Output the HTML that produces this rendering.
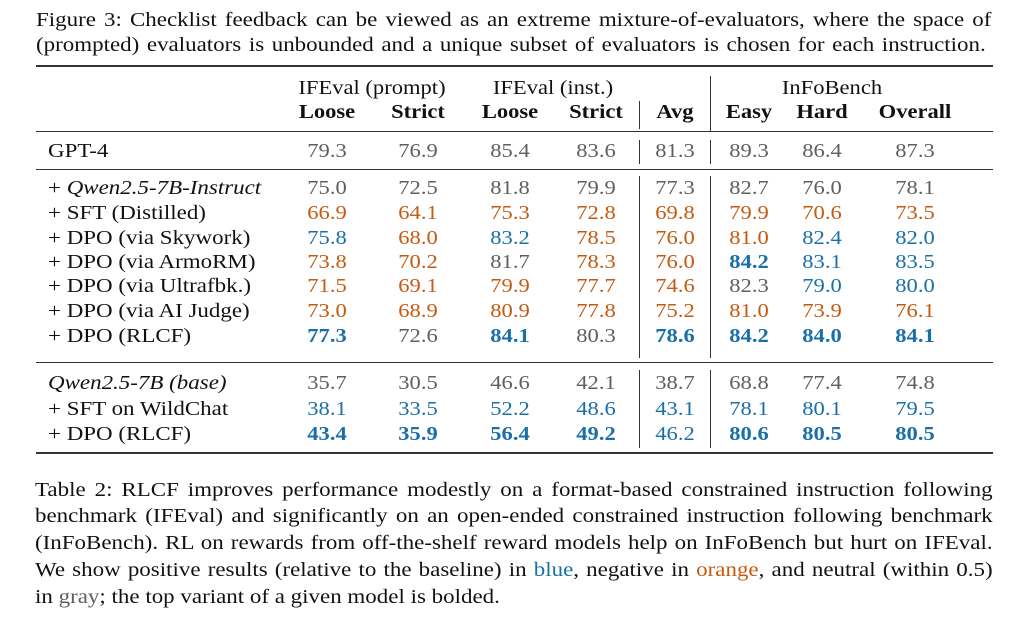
<!DOCTYPE html>
<html><head><meta charset="utf-8"><style>
*{margin:0;padding:0;box-sizing:border-box}
body{width:1024px;height:626px;background:#fff;position:relative;overflow:hidden;font-family:"Liberation Serif","Times New Roman",serif;color:#111}
.t{position:absolute;white-space:nowrap;line-height:24px;height:24px;font-size:20.5px;transform:scaleX(1.12);transform-origin:0 0}
.c{transform:translateX(-50%) scaleX(1.1);transform-origin:50% 0}
.j{position:absolute;left:35px;width:855px;font-size:20.5px;line-height:27px;height:27px;text-align:justify;text-align-last:justify;white-space:nowrap;overflow:visible;transform:scaleX(1.12);transform-origin:0 0}
.r{position:absolute;left:36px;width:957px;background:#333}
.v{position:absolute;width:1.2px;background:#333}
.g{color:#5f5f5f}.b{color:#1a6fa8}.o{color:#c55a11}.B{font-weight:bold}
</style></head><body>
<div class="j" style="top:7px;left:36px;width:853px">Figure 3: Checklist feedback can be viewed as an extreme mixture-of-evaluators, where the space of</div>
<div class="j" style="top:32px;left:36px;width:848px">(prompted) evaluators is unbounded and a unique subset of evaluators is chosen for each instruction.</div>
<div class="r" style="top:65px;height:2px"></div>
<div class="r" style="top:131px;height:1.3px"></div>
<div class="r" style="top:169px;height:1.3px"></div>
<div class="r" style="top:362px;height:1.3px"></div>
<div class="r" style="top:452px;height:2px"></div>
<div class="v" style="left:710px;top:76px;height:55px"></div>
<div class="v" style="left:639px;top:101px;height:28px"></div>
<div class="v" style="left:639px;top:140px;height:24px"></div>
<div class="v" style="left:710px;top:140px;height:24px"></div>
<div class="v" style="left:639px;top:176px;height:182px"></div>
<div class="v" style="left:710px;top:176px;height:182px"></div>
<div class="v" style="left:639px;top:370px;height:78px"></div>
<div class="v" style="left:710px;top:370px;height:78px"></div>
<div id="tb"></div>
<div class="j" style="top:477px">Table 2: RLCF improves performance modestly on a format-based constrained instruction following</div>
<div class="j" style="top:503px">benchmark (IFEval) and significantly on an open-ended constrained instruction following benchmark</div>
<div class="j" style="top:530px">(InFoBench). RL on rewards from off-the-shelf reward models help on InFoBench but hurt on IFEval.</div>
<div class="j" style="top:557px">We show positive results (relative to the baseline) in <span class="b">blue</span>, negative in <span class="o">orange</span>, and neutral (within 0.5)</div>
<div class="j" style="top:584px;text-align-last:left">in <span class="g">gray</span>; the top variant of a given model is bolded.</div>
<script>
var X=[327,418,510,596,675,749,822,915];
var h='';
function t(x,y,s,cls){h+='<div class="t c '+(cls||'')+'" style="left:'+x+'px;top:'+(y-12)+'px">'+s+'</div>';}
t(372,88,'IFEval (prompt)');t(553,88,'IFEval (inst.)');t(832,88,'InFoBench');
['Loose','Strict','Loose','Strict','Avg','Easy','Hard','Overall'].forEach(function(s,i){t(X[i],112,s,'B');});
var rows=[
[151,'GPT-4','79.3 76.9 85.4 83.6 81.3 89.3 86.4 87.3','g g g g g g g g'],
[188,'+ <i>Qwen2.5-7B-Instruct</i>','75.0 72.5 81.8 79.9 77.3 82.7 76.0 78.1','g g g g g g g g'],
[213,'+ SFT (Distilled)','66.9 64.1 75.3 72.8 69.8 79.9 70.6 73.5','o o o o o o o o'],
[238,'+ DPO (via Skywork)','75.8 68.0 83.2 78.5 76.0 81.0 82.4 82.0','b o b o o o b b'],
[262,'+ DPO (via ArmoRM)','73.8 70.2 81.7 78.3 76.0 84.2 83.1 83.5','o o g o o bB b b'],
[286,'+ DPO (via Ultrafbk.)','71.5 69.1 79.9 77.7 74.6 82.3 79.0 80.0','o o o o o g b b'],
[311,'+ DPO (via AI Judge)','73.0 68.9 80.9 77.8 75.2 81.0 73.9 76.1','o o o o o o o o'],
[336,'+ DPO (RLCF)','77.3 72.6 84.1 80.3 78.6 84.2 84.0 84.1','bB g bB g bB bB bB bB'],
[383,'<i>Qwen2.5-7B (base)</i>','35.7 30.5 46.6 42.1 38.7 68.8 77.4 74.8','g g g g g g g g'],
[409,'+ SFT on WildChat','38.1 33.5 52.2 48.6 43.1 78.1 80.1 79.5','b b b b b b b b'],
[434,'+ DPO (RLCF)','43.4 35.9 56.4 49.2 46.2 80.6 80.5 80.5','bB bB bB bB b bB bB bB']];
rows.forEach(function(r){
h+='<div class="t" style="left:48px;top:'+(r[0]-12)+'px">'+r[1]+'</div>';
var v=r[2].split(' '),c=r[3].split(' ');
v.forEach(function(s,i){t(X[i],r[0],s,c[i].replace('B',' B'));});
});
document.getElementById('tb').innerHTML=h;
</script>
</body></html>
